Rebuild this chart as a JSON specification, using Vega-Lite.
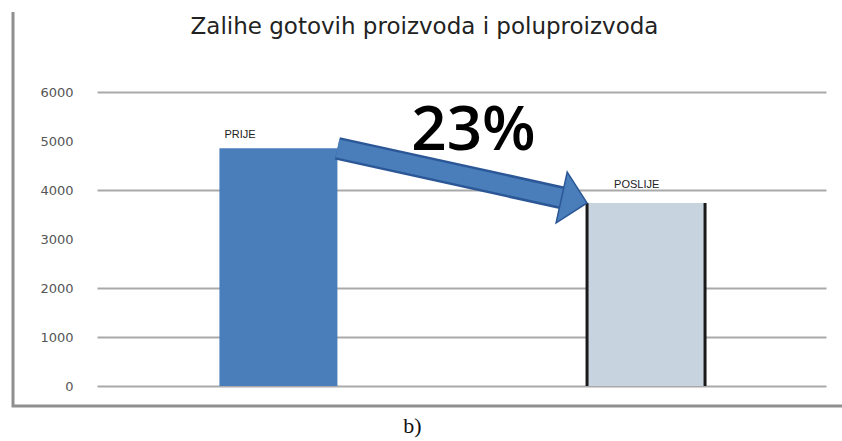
{
  "$schema": "https://vega.github.io/schema/vega-lite/v6.json",
  "width": 829,
  "height": 394,
  "autosize": "none",
  "padding": {"left": 13, "top": 12, "right": 0, "bottom": 35},
  "background": "white",
  "config": {"view": {"stroke": "#8f8f8f", "strokeWidth": 3, "strokeDash": [0, 1223, 1223]}},
  "title": {
    "text": "Zalihe gotovih proizvoda i poluproizvoda",
    "font": "DejaVu Sans",
    "fontSize": 23,
    "fontWeight": "normal",
    "color": "#222222",
    "anchor": "middle",
    "frame": "group",
    "baseline": "alphabetic",
    "offset": -45,
    "dx": -3
  },
  "resolve": {"axis": {"y": "independent"}},
  "datasets": {
    "zalihe": [
      {"faza": "PRIJE", "zalihe": 4850},
      {"faza": "POSLIJE", "zalihe": 3735}
    ],
    "strelica": [
      {"faza": "PRIJE", "faza_poslije": "POSLIJE", "zalihe": 4850, "zalihe_poslije": 3735, "promjena": "23%"}
    ]
  },
  "layer": [
    {
      "data": {"name": "zalihe"},
      "mark": {"type": "bar"},
      "encoding": {
        "x": {
          "field": "faza",
          "type": "nominal",
          "sort": null,
          "scale": {"domain": ["PRIJE", "POSLIJE"], "range": [84, 813], "paddingInner": 0.679, "paddingOuter": 0.331, "align": 0.503},
          "axis": {"labels": false, "ticks": false, "grid": false, "domain": false, "title": "b)", "titleFont": "Liberation Serif", "titleFontSize": 22, "titleFontWeight": "normal", "titleColor": "#111111", "titleX": 399, "titleY": 26, "titleBaseline": "alphabetic", "titleAlign": "center"}
        },
        "y": {
          "field": "zalihe",
          "type": "quantitative",
          "scale": {"domain": [-408, 7633], "nice": false, "zero": false},
          "axis": {"orient": "left", "values": [0, 1000, 2000, 4000, 6000], "labels": false, "ticks": false, "domain": false, "grid": true, "gridColor": "#a9a9a9", "gridWidth": 2, "title": null}
        },
        "color": {
          "field": "faza",
          "type": "nominal",
          "scale": {"domain": ["PRIJE", "POSLIJE"], "range": ["#4A7EBB", "#C8D3E0"]},
          "legend": null
        }
      }
    },
    {
      "data": {"name": "zalihe"},
      "transform": [{"filter": "datum.faza === 'POSLIJE'"}],
      "mark": {"type": "rule", "color": "#1a1a1a", "strokeWidth": 3},
      "encoding": {
        "x": {"field": "faza", "type": "nominal", "bandPosition": 0, "axis": {"labels": false, "ticks": false, "grid": false, "domain": false, "title": "b)", "titleFont": "Liberation Serif", "titleFontSize": 22, "titleFontWeight": "normal", "titleColor": "#111111", "titleX": 399, "titleY": 26, "titleBaseline": "alphabetic", "titleAlign": "center"}},
        "y": {"field": "zalihe", "type": "quantitative", "axis": {"orient": "right", "values": [0, 1000, 2000, 3000, 4000, 5000, 6000], "format": "d", "domain": false, "ticks": false, "tickSize": 0, "labelPadding": -769, "labelAlign": "right", "labelFont": "DejaVu Sans", "labelFontSize": 13, "labelColor": "#555555", "grid": false, "title": null}},
        "y2": {"datum": 0}
      }
    },
    {
      "data": {"name": "zalihe"},
      "transform": [{"filter": "datum.faza === 'POSLIJE'"}],
      "mark": {"type": "rule", "color": "#1a1a1a", "strokeWidth": 3},
      "encoding": {
        "x": {"field": "faza", "type": "nominal", "bandPosition": 1, "axis": {"labels": false, "ticks": false, "grid": false, "domain": false, "title": "b)", "titleFont": "Liberation Serif", "titleFontSize": 22, "titleFontWeight": "normal", "titleColor": "#111111", "titleX": 399, "titleY": 26, "titleBaseline": "alphabetic", "titleAlign": "center"}},
        "y": {"field": "zalihe", "type": "quantitative", "axis": null},
        "y2": {"datum": 0}
      }
    },
    {
      "data": {"name": "zalihe"},
      "transform": [{"filter": "datum.faza === 'PRIJE'"}],
      "mark": {"type": "text", "align": "left", "baseline": "alphabetic", "dx": 5, "dy": -10, "font": "Liberation Sans", "fontSize": 11, "color": "#222222"},
      "encoding": {
        "x": {"field": "faza", "type": "nominal", "bandPosition": 0, "axis": {"labels": false, "ticks": false, "grid": false, "domain": false, "title": "b)", "titleFont": "Liberation Serif", "titleFontSize": 22, "titleFontWeight": "normal", "titleColor": "#111111", "titleX": 399, "titleY": 26, "titleBaseline": "alphabetic", "titleAlign": "center"}},
        "y": {"field": "zalihe", "type": "quantitative", "axis": null},
        "text": {"field": "faza"}
      }
    },
    {
      "data": {"name": "zalihe"},
      "transform": [{"filter": "datum.faza === 'POSLIJE'"}],
      "mark": {"type": "text", "align": "left", "baseline": "alphabetic", "dx": 27, "dy": -15, "font": "Liberation Sans", "fontSize": 11, "color": "#222222"},
      "encoding": {
        "x": {"field": "faza", "type": "nominal", "bandPosition": 0, "axis": {"labels": false, "ticks": false, "grid": false, "domain": false, "title": "b)", "titleFont": "Liberation Serif", "titleFontSize": 22, "titleFontWeight": "normal", "titleColor": "#111111", "titleX": 399, "titleY": 26, "titleBaseline": "alphabetic", "titleAlign": "center"}},
        "y": {"field": "zalihe", "type": "quantitative", "axis": null},
        "text": {"field": "faza"}
      }
    },
    {
      "data": {"name": "strelica"},
      "mark": {"type": "rule", "color": "#2b5797", "strokeWidth": 23, "strokeCap": "butt", "x2Offset": -24, "y2Offset": -5},
      "encoding": {
        "x": {"field": "faza", "type": "nominal", "bandPosition": 1, "axis": {"labels": false, "ticks": false, "grid": false, "domain": false, "title": "b)", "titleFont": "Liberation Serif", "titleFontSize": 22, "titleFontWeight": "normal", "titleColor": "#111111", "titleX": 399, "titleY": 26, "titleBaseline": "alphabetic", "titleAlign": "center"}},
        "x2": {"field": "faza_poslije", "bandPosition": 0},
        "y": {"field": "zalihe", "type": "quantitative", "axis": null},
        "y2": {"field": "zalihe_poslije"}
      }
    },
    {
      "data": {"name": "strelica"},
      "mark": {"type": "rule", "color": "#4A7EBB", "strokeWidth": 18, "strokeCap": "butt", "x2Offset": -24, "y2Offset": -5},
      "encoding": {
        "x": {"field": "faza", "type": "nominal", "bandPosition": 1, "axis": {"labels": false, "ticks": false, "grid": false, "domain": false, "title": "b)", "titleFont": "Liberation Serif", "titleFontSize": 22, "titleFontWeight": "normal", "titleColor": "#111111", "titleX": 399, "titleY": 26, "titleBaseline": "alphabetic", "titleAlign": "center"}},
        "x2": {"field": "faza_poslije", "bandPosition": 0},
        "y": {"field": "zalihe", "type": "quantitative", "axis": null},
        "y2": {"field": "zalihe_poslije"}
      }
    },
    {
      "data": {"name": "zalihe"},
      "transform": [{"filter": "datum.faza === 'POSLIJE'"}],
      "mark": {"type": "point", "shape": "M-1,-1L0,0L-1,1Z", "size": 2700, "angle": 12.4, "filled": true, "fill": "#4A7EBB", "stroke": "#2b5797", "strokeWidth": 1.5, "opacity": 1},
      "encoding": {
        "x": {"field": "faza", "type": "nominal", "bandPosition": 0, "axis": {"labels": false, "ticks": false, "grid": false, "domain": false, "title": "b)", "titleFont": "Liberation Serif", "titleFontSize": 22, "titleFontWeight": "normal", "titleColor": "#111111", "titleX": 399, "titleY": 26, "titleBaseline": "alphabetic", "titleAlign": "center"}},
        "y": {"field": "zalihe", "type": "quantitative", "axis": null}
      }
    },
    {
      "data": {"name": "strelica"},
      "mark": {"type": "text", "align": "center", "baseline": "alphabetic", "dx": 136, "dy": 2, "font": "Open Sans", "fontSize": 62, "fontWeight": 600, "color": "#000000"},
      "encoding": {
        "x": {"field": "faza", "type": "nominal", "bandPosition": 1, "axis": {"labels": false, "ticks": false, "grid": false, "domain": false, "title": "b)", "titleFont": "Liberation Serif", "titleFontSize": 22, "titleFontWeight": "normal", "titleColor": "#111111", "titleX": 399, "titleY": 26, "titleBaseline": "alphabetic", "titleAlign": "center"}},
        "y": {"field": "zalihe", "type": "quantitative", "axis": null},
        "text": {"field": "promjena"}
      }
    }
  ]
}
